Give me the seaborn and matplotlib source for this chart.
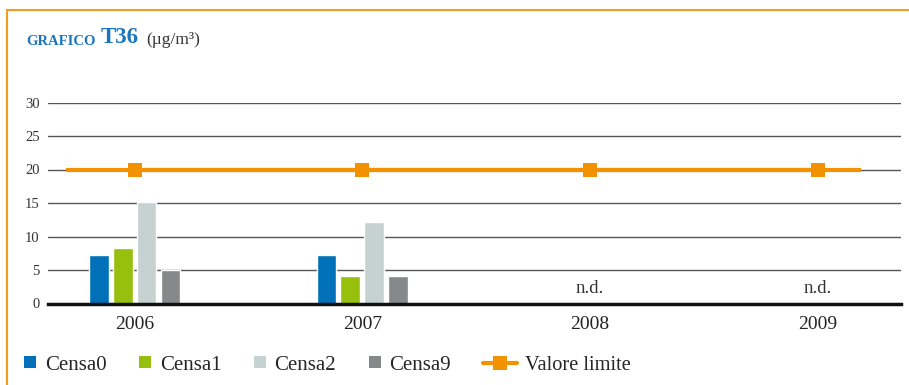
import matplotlib
matplotlib.use("Agg")
import matplotlib.pyplot as plt
from matplotlib.lines import Line2D
import seaborn as sns
import pandas as pd
import numpy as np

years = ["2006", "2007", "2008", "2009"]
series = ["Censa0", "Censa1", "Censa2", "Censa9"]
censa0 = [7.2, 7.2, np.nan, np.nan]
censa1 = [8.3, 4.1, np.nan, np.nan]
censa2 = [15.2, 12.2, np.nan, np.nan]
censa9 = [5.0, 4.1, np.nan, np.nan]
limit = [20, 20, 20, 20]
limit_label = "Valore limite"
yticks = [0, 5, 10, 15, 20, 25, 30]

colors = ["#0070b8", "#97bf0d", "#c6d1d1", "#87888a"]
orange = "#f39200"
blue_title = "#1b75bb"

sns.set_style("white")
plt.rcParams["font.family"] = ["Liberation Serif", "DejaVu Serif"]

rows = []
for name, vals in zip(series, [censa0, censa1, censa2, censa9]):
    for y, v in zip(years, vals):
        rows.append({"anno": y, "serie": name, "valore": v})
df = pd.DataFrame(rows)
df_ok = df.dropna()

fig = plt.figure(figsize=(9.09, 3.85), dpi=100)
ax = fig.add_axes([48 / 909, 1 - 303.5 / 385, 853 / 909, 201 / 385])

sns.barplot(data=df_ok, x="anno", y="valore", hue="serie", order=years,
            hue_order=series, palette=colors, width=0.42, gap=0.17,
            saturation=1, legend=False, ax=ax, zorder=3)

# limit line (runs a bit past the markers like the original)
ax.hlines(limit[0], -0.3, len(years) - 1 + 0.19, color=orange, lw=3, zorder=4)
sns.pointplot(x=years, y=limit, order=years, color=orange, marker="s",
              markersize=10.3, markeredgewidth=0, linewidth=3,
              errorbar=None, ax=ax, zorder=5)

# n.d. where there is no data
for i, y in enumerate(years):
    if df[df["anno"] == y]["valore"].isna().all():
        ax.text(i, 1.5, "n.d.", ha="center", va="baseline", fontsize=13.5,
                color="#333333")

ax.set_xlim(-0.38, 3.365)
ax.set_ylim(0, 30)
ax.set_yticks(yticks)
ax.set_xlabel("")
ax.set_ylabel("")
ax.yaxis.grid(True, color="#555555", lw=1)
ax.set_axisbelow(True)
for s in ["top", "right", "left"]:
    ax.spines[s].set_visible(False)
ax.spines["bottom"].set_color("#111111")
ax.spines["bottom"].set_linewidth(2.5)
ax.spines["bottom"].set_zorder(6)
ax.tick_params(axis="y", length=0, pad=6, labelsize=10.5, labelcolor="#333333")
ax.tick_params(axis="x", length=0, pad=9, labelsize=14, labelcolor="#222222")

# title
t1 = fig.text(26 / 909, 1 - 48 / 385, "GRAFICO", fontsize=10.5,
              fontweight="bold", color=blue_title, va="bottom")
t2 = ax.annotate("T36", xy=(1, 0), xycoords=t1, xytext=(4, 0),
                 textcoords="offset points", fontsize=16.5, fontweight="bold",
                 color=blue_title, va="bottom", annotation_clip=False)
ax.annotate("(µg/m³)", xy=(1, 0), xycoords=t2, xytext=(5, 0),
            textcoords="offset points", fontsize=12.5, color="#333333",
            va="bottom", annotation_clip=False)

# legend: bars and limit line in two pieces so the handles can differ
bar_handles = [Line2D([], [], marker="s", ls="none", color=c, markersize=8,
                      markeredgewidth=0) for c in colors]
fig.legend(bar_handles, series, loc="center left",
           bbox_to_anchor=(22 / 909, 1 - 365 / 385), ncol=4,
           frameon=False, fontsize=15, handlelength=0.8,
           handletextpad=0.3, columnspacing=1.45, borderpad=0,
           borderaxespad=0)
line_handle = Line2D([], [], marker="s", color=orange, lw=3, markersize=10,
                     markeredgewidth=0)
fig.legend([line_handle], [limit_label], loc="center left",
           bbox_to_anchor=(483 / 909, 1 - 365 / 385), frameon=False,
           fontsize=14.7, handlelength=1.65, handletextpad=0.4, borderpad=0,
           borderaxespad=0)

# orange frame
fig.add_artist(Line2D([6.5 / 909, 1], [1 - 9.5 / 385] * 2, color="#f39c1f",
                      lw=1.5, transform=fig.transFigure))
fig.add_artist(Line2D([6.5 / 909] * 2, [0, 1 - 9.5 / 385], color="#f39c1f",
                      lw=1.5, transform=fig.transFigure))

fig.savefig("out.png", dpi=100)
